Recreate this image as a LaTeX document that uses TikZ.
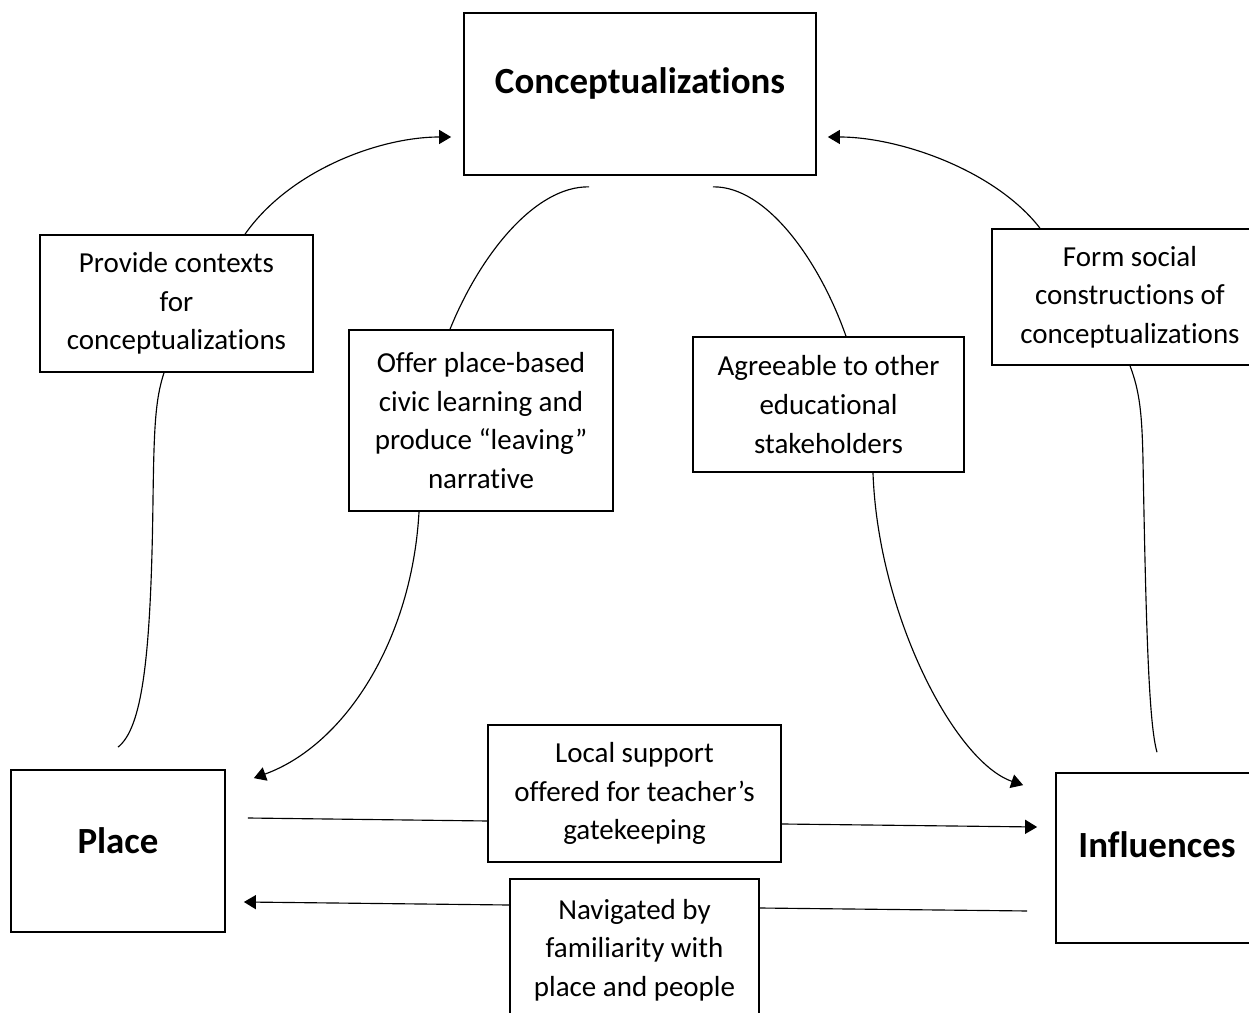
\documentclass[tikz,border=0pt]{standalone}
\usepackage{fontspec}
\setmainfont{Carlito}[Ligatures={NoCommon,NoContextual}]
\usetikzlibrary{arrows.meta,positioning}

\begin{document}
\begin{tikzpicture}[x=0.02cm,y=-0.02cm,>={Triangle[length=0.24cm,width=0.28cm]},
    main/.style={draw,line width=1pt,inner sep=0pt},
    title/.style={font=\fontsize{21}{25}\selectfont\bfseries},
    lab/.style={draw,line width=0.9pt,inner sep=0pt,align=center,font=\fontsize{16.5}{22}\selectfont},
    link/.style={line width=0.65pt}]

                \useasboundingbox (0,0) rectangle (1249,1013);

                % the three main boxes
                \node[main,minimum width=7.04cm,minimum height=3.24cm,
                      label={[title,yshift=0.22cm]center:Conceptualizations}] (concept) at (640,94) {};
                \node[main,minimum width=4.28cm,minimum height=3.24cm,
                      label={[title,yshift=0.2cm]center:Place}] (place) at (118,851) {};
                \node[main,minimum width=4.04cm,minimum height=3.4cm,
                      label={[title,yshift=0.26cm]center:Influences}] (influ) at (1157,858) {};

                % the labels on the links
                \node[lab,minimum width=5.46cm,minimum height=2.74cm] (provide) at (176.5,303.5)
                      {Provide contexts\\for\\conceptualizations};
                \node[lab,minimum width=5.28cm,minimum height=3.62cm] (offer) at (481,420.5)
                      {Offer place-based\\civic learning and\\produce “leaving”\\narrative};
                \node[lab,minimum width=5.42cm,minimum height=2.7cm] (agree) at (828.5,404.5)
                      {Agreeable to other\\educational\\stakeholders};
                \node[lab,minimum width=5.52cm,minimum height=2.72cm] (form) at (1130,297)
                      {Form social\\constructions of\\conceptualizations};
                \node[lab,minimum width=5.86cm,minimum height=2.74cm] (local) at (634.5,793.5)
                      {Local support\\offered for teacher’s\\gatekeeping};
                \node[lab,minimum width=4.98cm,minimum height=2.84cm] (navig) at (634.5,950)
                      {Navigated by\\familiarity with\\place and people};

                % curved links
                \draw[link,->] ([xshift=1.37cm]provide.north) .. controls (290,170) and (380,137)
                      .. ([xshift=-0.24cm,yshift=-0.86cm]concept.west);
                \draw[link,->] ([xshift=-1.8cm]form.north) .. controls (995,170) and (899,137)
                      .. ([xshift=0.22cm,yshift=-0.86cm]concept.east);
                \draw[link] ([xshift=-1.02cm,yshift=-0.22cm]concept.south) .. controls (535,186) and (480,255)
                      .. ([xshift=-0.62cm]offer.north);
                \draw[link] ([xshift=1.46cm,yshift=-0.22cm]concept.south) .. controls (767,186) and (820,262)
                      .. ([xshift=0.35cm]agree.north);
                \draw[link,->] ([xshift=-1.24cm]offer.south) .. controls (412,640) and (345,745)
                      .. ([xshift=0.56cm,yshift=-0.18cm]place.north east);
                \draw[link,->] ([xshift=0.89cm]agree.south) .. controls (878,615) and (955,762)
                      .. ([xshift=-0.64cm,yshift=-0.26cm]influ.north west);
                \draw[link] ([xshift=-0.25cm]provide.south) .. controls (155,400) and (154,430) .. (153,500)
                      .. controls (151,660) and (142,728) .. ([yshift=0.44cm]place.north);
                \draw[link] (form.south) .. controls (1140,392) and (1142,415) .. (1143,460)
                      .. controls (1146,630) and (1149,725) .. ([yshift=0.4cm]influ.north);

                % straight links
                \draw[link] ([xshift=0.44cm,yshift=0.66cm]place.east) -- ([yshift=-0.55cm]local.west);
                \draw[link,->] ([yshift=-0.61cm]local.east) -- ([xshift=-0.36cm,yshift=0.62cm]influ.west);
                \draw[link] ([xshift=-0.56cm,yshift=-1.06cm]influ.west) -- ([yshift=0.84cm]navig.east);
                \draw[link,->] ([yshift=0.9cm]navig.west) -- ([xshift=0.36cm,yshift=-1.02cm]place.east);

            \end{tikzpicture}
\end{document}
